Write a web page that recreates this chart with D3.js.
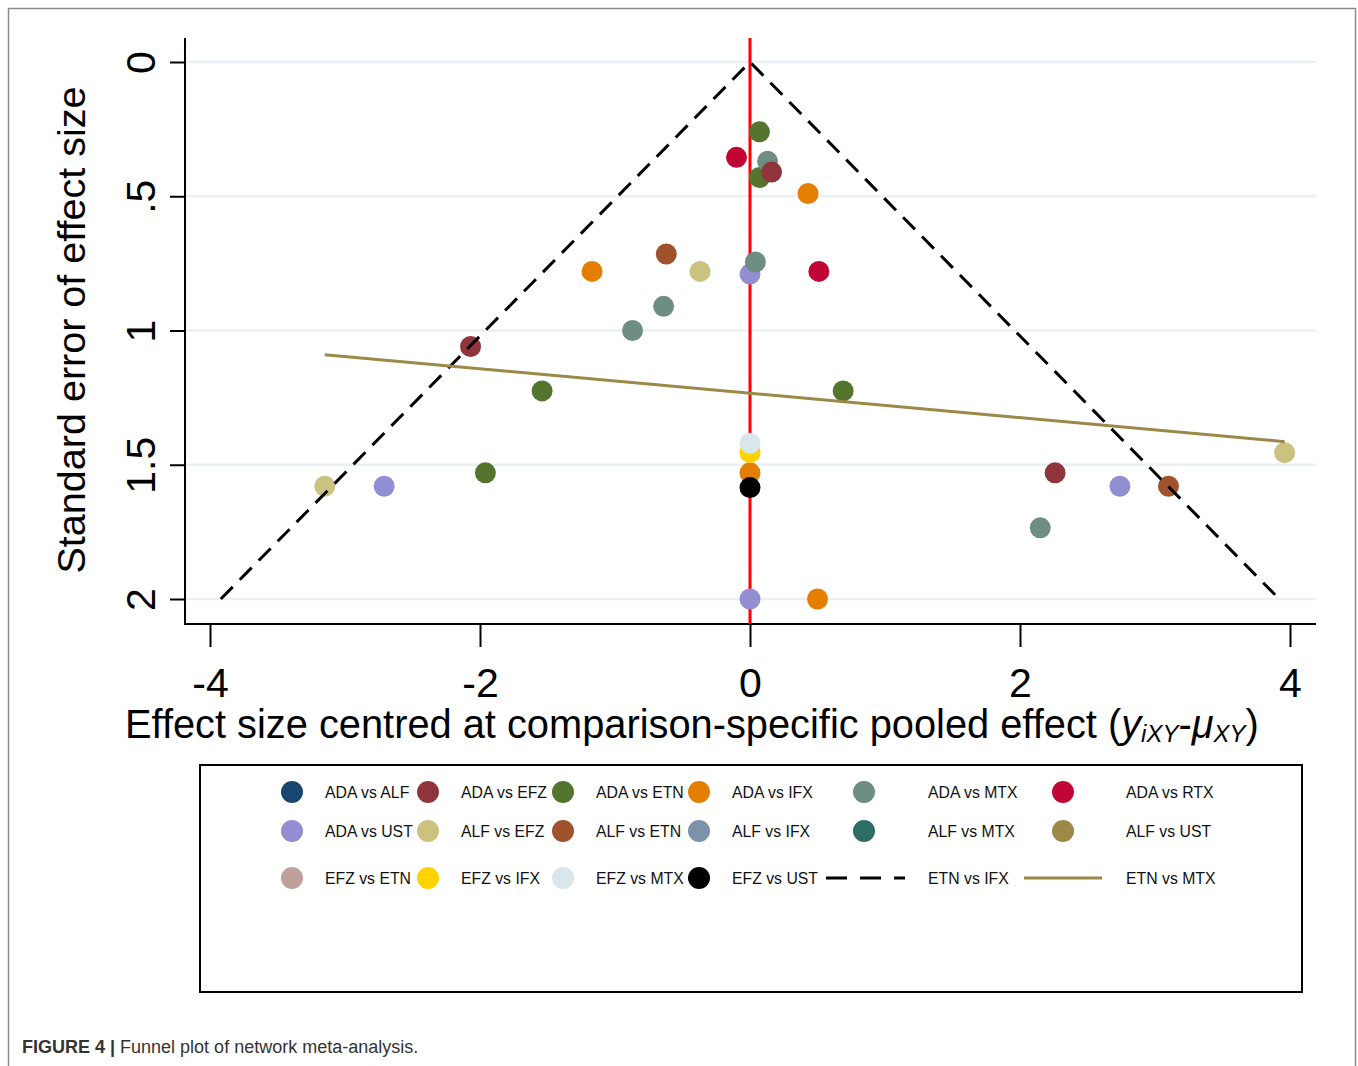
<!DOCTYPE html>
<html>
<head>
<meta charset="utf-8">
<script src="https://cdn.jsdelivr.net/npm/d3@7"></script>
<style>
  body { margin: 0; background: #fff; }
  text { font-family: "Liberation Sans", Arial, sans-serif; }
</style>
</head>
<body>
<div id="chart"></div>
<script>
// legend: one colour per comparison, in Stata order
var legendLabels = ["ADA vs ALF", "ADA vs EFZ", "ADA vs ETN", "ADA vs IFX", "ADA vs MTX", "ADA vs RTX",
                    "ADA vs UST", "ALF vs EFZ", "ALF vs ETN", "ALF vs IFX", "ALF vs MTX", "ALF vs UST",
                    "EFZ vs ETN", "EFZ vs IFX", "EFZ vs MTX", "EFZ vs UST", "ETN vs IFX", "ETN vs MTX"];
var legendColors = ["#1a476f", "#90353b", "#55752f", "#e37e00", "#6e8e84", "#c10534",
                    "#938dd2", "#cac27e", "#a0522d", "#7b92a8", "#2d6d66", "#9c8847",
                    "#bfa19c", "#ffd200", "#d9e6eb", "#000000"];

// points (centred effect, standard error, colour index), in drawing order
var pointEffect = [0.00, -2.71, 2.74, 0.00,
                   -0.37, -3.15, 3.96,
                   -0.62, 3.10,
                   0.43, -1.17, 0.00, 0.50,
                   0.00,
                   0.00,
                   0.07, 0.07, -1.54, 0.69, -1.96,
                   0.13, 0.04, -0.64, -0.87, 2.15,
                   -0.10, 0.51,
                   0.16, -2.07, 2.26,
                   0.00];
var pointSE = [0.79, 1.58, 1.58, 2.00,
               0.78, 1.58, 1.455,
               0.715, 1.58,
               0.49, 0.78, 1.53, 2.00,
               1.455,
               1.42,
               0.26, 0.43, 1.225, 1.225, 1.53,
               0.37, 0.745, 0.91, 1.00, 1.735,
               0.355, 0.78,
               0.41, 1.06, 1.53,
               1.585];
var pointColor = [6, 6, 6, 6,
                  7, 7, 7,
                  8, 8,
                  3, 3, 3, 3,
                  13,
                  14,
                  2, 2, 2, 2, 2,
                  4, 4, 4, 4, 4,
                  5, 5,
                  1, 1, 1,
                  15];

// fitted line (ETN vs MTX key) and funnel
var regEffect = [-3.15, 3.96];
var regSE = [1.09, 1.414];
var seMax = 2;
var zCrit = 1.96;

var xTicks = [-4, -2, 0, 2, 4];
var yTicks = [0, 0.5, 1, 1.5, 2];
var yTickLabels = ["0", ".5", "1", "1.5", "2"];

var width = 1358, height = 1066;
var plotLeft = 185, plotRight = 1316, plotTop = 38, plotBottom = 624;

var svg = d3.select("#chart").append("svg")
    .attr("width", width)
    .attr("height", height);

// outer figure frame
svg.append("rect")
    .attr("x", 8.5).attr("y", 8.5)
    .attr("width", 1347).attr("height", 1075)
    .attr("fill", "none")
    .attr("stroke", "#8a8a8a")
    .attr("stroke-width", 1.5);

var x = d3.scaleLinear().domain([-4, 4]).range([210, 1290]);
var y = d3.scaleLinear().domain([0, 2]).range([62, 599]);

//gridlines
svg.append("g").selectAll("line")
    .data(yTicks)
    .enter().append("line")
    .attr("x1", plotLeft).attr("x2", plotRight)
    .attr("y1", function(d) { return y(d); })
    .attr("y2", function(d) { return y(d); })
    .attr("stroke", "#e9f1f4")
    .attr("stroke-width", 2.5);

//axes
var xAxis = svg.append("g")
    .attr("transform", "translate(0," + plotBottom + ")")
    .call(d3.axisBottom(x).tickValues(xTicks).tickSize(23).tickPadding(10)
        .tickFormat(function(d) { return d; }));
xAxis.select(".domain").remove();
xAxis.selectAll("line").attr("stroke", "#000").attr("stroke-width", 2);
xAxis.selectAll("text")
    .attr("dy", 0)
    .attr("y", 73)
    .attr("font-size", 41)
    .attr("font-family", "Liberation Sans, Arial, sans-serif")
    .attr("fill", "#000");

var yAxis = svg.append("g")
    .attr("transform", "translate(" + plotLeft + ",0)")
    .call(d3.axisLeft(y).tickValues(yTicks).tickSize(15)
        .tickFormat(function(d, i) { return yTickLabels[i]; }));
yAxis.select(".domain").remove();
yAxis.selectAll("line").attr("stroke", "#000").attr("stroke-width", 2);
yAxis.selectAll("text")
    .attr("x", 0).attr("dy", 0)
    .attr("text-anchor", "middle")
    .attr("transform", "translate(-30,0) rotate(-90)")
    .attr("font-size", 41)
    .attr("font-family", "Liberation Sans, Arial, sans-serif")
    .attr("fill", "#000");

svg.append("line")
    .attr("x1", plotLeft).attr("x2", plotLeft)
    .attr("y1", plotTop).attr("y2", plotBottom + 1)
    .attr("stroke", "#000").attr("stroke-width", 2);
svg.append("line")
    .attr("x1", plotLeft - 1).attr("x2", plotRight)
    .attr("y1", plotBottom).attr("y2", plotBottom)
    .attr("stroke", "#000").attr("stroke-width", 2);

//null line at 0
svg.append("line")
    .attr("x1", x(0)).attr("x2", x(0))
    .attr("y1", plotTop).attr("y2", plotBottom)
    .attr("stroke", "#ff0000").attr("stroke-width", 3);

//study points
svg.append("g").selectAll("circle")
    .data(pointEffect)
    .enter().append("circle")
    .attr("cx", function(d) { return x(d); })
    .attr("cy", function(d, i) { return y(pointSE[i]); })
    .attr("r", 10.5)
    .attr("fill", function(d, i) { return legendColors[pointColor[i]]; });

//pseudo 95% limits
var line = d3.line()
    .x(function(d) { return x(d[0]); })
    .y(function(d) { return y(d[1]); });

svg.append("path")
    .attr("d", line([[-zCrit * seMax, seMax], [0, 0], [zCrit * seMax, seMax]]))
    .attr("fill", "none")
    .attr("stroke", "#000")
    .attr("stroke-width", 3)
    .attr("stroke-dasharray", "17,10");

//fitted line
svg.append("path")
    .attr("d", line(regEffect.map(function(d, i) { return [d, regSE[i]]; })))
    .attr("fill", "none")
    .attr("stroke", "#9c8847")
    .attr("stroke-width", 3);

//axis titles
svg.append("text")
    .attr("transform", "translate(85,330) rotate(-90)")
    .attr("text-anchor", "middle")
    .attr("font-size", 39)
    .attr("textLength", 487)
    .attr("lengthAdjust", "spacingAndGlyphs")
    .text("Standard error of effect size");

var xTitle = svg.append("text")
    .attr("x", 125).attr("y", 738)
    .attr("font-size", 39.8);
xTitle.append("tspan").text("Effect size centred at comparison-specific pooled effect (");
xTitle.append("tspan").attr("font-style", "italic").text("y");
xTitle.append("tspan").attr("font-style", "italic").attr("font-size", 24).attr("dy", 4).text("iXY");
xTitle.append("tspan").attr("dy", -4).text("-");
xTitle.append("tspan").attr("font-style", "italic").text("\u03bc");
xTitle.append("tspan").attr("font-style", "italic").attr("font-size", 24).attr("dy", 4).text("XY");
xTitle.append("tspan").attr("dy", -4).text(")");

//legend box
svg.append("rect")
    .attr("x", 200).attr("y", 765)
    .attr("width", 1102).attr("height", 227)
    .attr("fill", "none")
    .attr("stroke", "#000")
    .attr("stroke-width", 2);

var keyX = [292, 428, 563, 699, 864, 1063];
var labelX = [325, 461, 596, 732, 928, 1126];
var rowY = [792, 831, 878];

var legend = svg.append("g");
legendLabels.forEach(function(label, i) {
  var row = Math.floor(i / 6), col = i % 6;
  var cy = rowY[row];
  if (i < legendColors.length) {
    legend.append("circle")
        .attr("cx", keyX[col]).attr("cy", cy).attr("r", 11)
        .attr("fill", legendColors[i]);
  } else if (i == 16) {
    legend.append("line")
        .attr("x1", keyX[col] - 38).attr("x2", keyX[col] + 41)
        .attr("y1", cy).attr("y2", cy)
        .attr("stroke", "#000").attr("stroke-width", 3)
        .attr("stroke-dasharray", "21,13");
  } else {
    legend.append("line")
        .attr("x1", keyX[col] - 39).attr("x2", keyX[col] + 39)
        .attr("y1", cy).attr("y2", cy)
        .attr("stroke", "#9c8847").attr("stroke-width", 3);
  }
  legend.append("text")
      .attr("x", labelX[col]).attr("y", cy + 6)
      .attr("font-size", 15.8)
      .attr("fill", "#111")
      .text(label);
});

//caption
var caption = svg.append("text")
    .attr("x", 22).attr("y", 1053)
    .attr("font-size", 18)
    .attr("fill", "#333");
caption.append("tspan").attr("font-weight", "bold").text("FIGURE 4 | ");
caption.append("tspan").text("Funnel plot of network meta-analysis.");
</script>
</body>
</html>
